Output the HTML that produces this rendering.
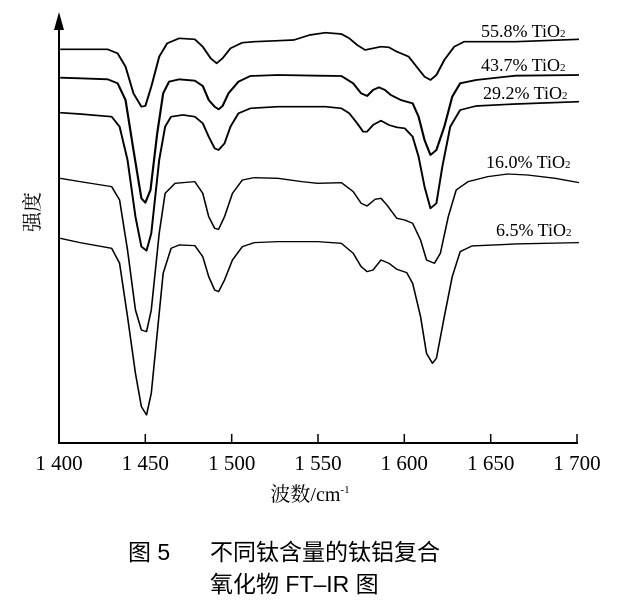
<!DOCTYPE html>
<html><head><meta charset="utf-8"><style>
html,body{margin:0;padding:0;background:#fff;}
svg{display:block;}
text{font-family:"Liberation Serif","Noto Serif CJK SC",serif;fill:#000;}
.cj{font-family:"Liberation Sans","Noto Sans CJK SC",sans-serif;}
</style></head><body>
<svg width="620" height="616" viewBox="0 0 620 616" xmlns="http://www.w3.org/2000/svg">
<line x1="59" y1="443" x2="59" y2="28" stroke="#000" stroke-width="2"/>
<polygon points="59,12 54,30 64,30" fill="#000"/>
<line x1="58" y1="443" x2="578" y2="443" stroke="#000" stroke-width="2"/>
<g stroke="#000" stroke-width="1.5">
<line x1="145.3" y1="443" x2="145.3" y2="434"/><line x1="231.7" y1="443" x2="231.7" y2="434"/><line x1="318" y1="443" x2="318" y2="434"/><line x1="404.3" y1="443" x2="404.3" y2="434"/><line x1="490.7" y1="443" x2="490.7" y2="434"/><line x1="577" y1="443" x2="577" y2="434"/>
</g>
<g font-size="21" text-anchor="middle">
<text x="59" y="470">1 400</text><text x="145.3" y="470">1 450</text><text x="231.7" y="470">1 500</text><text x="318" y="470">1 550</text><text x="404.3" y="470">1 600</text><text x="490.7" y="470">1 650</text><text x="577" y="470">1 700</text>
</g>
<text x="310" y="501" font-size="20" text-anchor="middle">波数/cm<tspan font-size="11" dy="-8">-1</tspan></text>
<text x="0" y="0" font-size="20" transform="translate(39,212) rotate(-90)" text-anchor="middle">强度</text>
<g fill="none" stroke="#000" stroke-linejoin="round" transform="translate(0.8,0) scale(0.396,0.3333)">
<path stroke-width="5" d="M150,148 L270,148 295,160 315,200 335,280 355,320 365,318 380,260 400,170 420,130 450,115 490,118 510,140 530,175 545,190 560,175 580,145 610,128 640,125 700,122 740,120 780,105 820,98 860,102 880,115 900,135 920,150 940,145 960,140 980,142 1000,155 1030,170 1050,200 1070,230 1085,240 1100,225 1120,180 1145,140 1170,125 1300,125 1460,118"/>
<path stroke-width="5.5" d="M150,233 L200,235 270,238 295,250 315,300 335,450 355,595 365,608 378,570 395,400 410,280 425,245 450,238 490,242 510,258 525,300 540,320 550,328 560,318 575,280 600,245 630,228 700,225 800,227 860,228 890,250 910,280 925,288 940,270 955,262 970,270 985,285 1010,300 1040,310 1055,350 1070,420 1085,465 1100,450 1120,380 1140,290 1160,250 1200,240 1300,227 1460,225"/>
<path stroke-width="5" d="M150,338 L200,342 280,350 300,380 320,480 340,650 355,740 368,752 380,700 400,480 415,380 430,350 460,345 490,350 510,370 525,410 540,445 550,450 565,430 580,380 600,340 630,325 700,320 820,320 860,325 880,340 900,370 915,395 925,395 940,375 960,362 980,375 1000,382 1020,385 1040,410 1055,470 1070,560 1085,625 1100,610 1115,500 1135,380 1160,330 1200,318 1300,312 1460,305"/>
<path stroke-width="4" d="M150,535 L200,545 280,560 300,600 320,750 340,930 355,990 368,995 380,930 400,700 415,580 440,550 490,545 510,580 525,650 540,685 550,688 565,650 585,580 610,540 640,533 700,535 760,545 800,550 860,548 890,575 910,610 925,618 945,598 960,595 975,615 1000,655 1020,660 1040,670 1060,720 1075,780 1095,790 1110,760 1130,650 1150,570 1180,545 1230,530 1280,522 1330,525 1400,535 1460,548"/>
<path stroke-width="4" d="M150,715 L200,728 280,745 300,790 320,950 340,1120 355,1220 368,1245 380,1180 395,1000 410,820 430,745 450,735 490,737 510,770 525,830 540,870 550,875 565,840 585,780 610,740 640,728 700,725 800,725 860,730 890,760 910,800 925,815 940,810 960,780 980,790 1000,808 1025,818 1040,850 1060,950 1075,1060 1090,1090 1100,1075 1120,950 1140,830 1160,755 1190,738 1300,732 1460,728"/>
</g>
<g font-size="18">
<text x="481" y="37">55.8% TiO<tspan font-size="11">2</tspan></text>
<text x="481" y="71">43.7% TiO<tspan font-size="11">2</tspan></text>
<text x="483" y="99">29.2% TiO<tspan font-size="11">2</tspan></text>
<text x="486" y="168">16.0% TiO<tspan font-size="11">2</tspan></text>
<text x="496" y="236">6.5% TiO<tspan font-size="11">2</tspan></text>
</g>
<text class="cj" x="128" y="560" font-size="23">图 5</text>
<text class="cj" x="210" y="560" font-size="23">不同钛含量的钛铝复合</text>
<text class="cj" x="210" y="592" font-size="23">氧化物 FT–IR 图</text>
</svg>
</body></html>
